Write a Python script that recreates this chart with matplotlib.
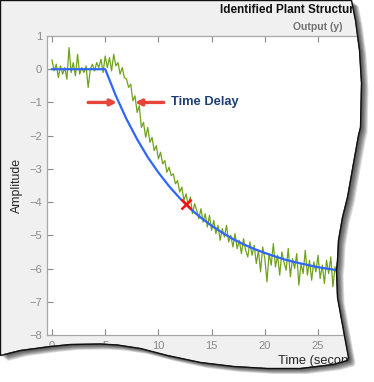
import numpy as np
import matplotlib
matplotlib.use('Agg')
import matplotlib.pyplot as plt
from matplotlib.patches import Polygon

plt.rcParams['font.family'] = ['Liberation Sans', 'DejaVu Sans']

# 测量数据 (绿色噪声曲线), 采样间隔 0.2 s
t_meas = np.arange(0, 30.01, 0.2)
y_meas = [
    0.28, -0.05, 0.15, -0.25, 0.10,
    -0.15, 0.05, -0.30, 0.65, -0.10,
    0.20, -0.20, 0.45, -0.15, 0.05,
    -0.10, 0.10, -0.55, 0.00, 0.15,
    -0.05, 0.20, 0.05, 0.30, -0.10,
    0.40, 0.05, 0.35, -0.05, 0.45,
    0.10, 0.20, -0.15, 0.05, -0.25,
    -0.30, -0.55, -0.45, -0.95, -0.80,
    -1.30, -1.10, -1.75, -1.60, -2.05,
    -1.75, -2.20, -2.05, -2.45, -2.30,
    -2.70, -2.50, -2.85, -2.75, -3.10,
    -2.95, -3.20, -3.15, -3.45, -3.35,
    -3.70, -3.55, -3.95, -3.75, -4.10,
    -3.85, -4.35, -4.05, -4.25, -4.50,
    -4.20, -4.60, -4.35, -4.75, -4.40,
    -4.85, -4.55, -4.95, -4.70, -5.15,
    -4.80, -5.05, -4.70, -5.20, -5.00,
    -5.35, -4.95, -5.40, -5.15, -5.55,
    -5.10, -5.45, -5.65, -5.20, -5.60,
    -5.30, -5.85, -5.45, -6.10, -5.35,
    -5.70, -6.40, -5.55, -5.90, -5.25,
    -5.95, -5.60, -6.20, -5.50, -5.80,
    -6.05, -5.40, -6.25, -5.70, -6.00,
    -5.55, -6.50, -5.85, -6.15, -5.45,
    -6.20, -5.75, -6.35, -5.80, -6.10,
    -5.60, -6.30, -5.90, -6.45, -5.75,
    -6.15, -5.65, -6.55, -5.95, -6.20,
    -5.80, -6.40, -6.00, -6.30, -5.90,
    -6.25, -5.95, -6.35, -6.05, -6.20,
    -6.00, -6.30, -6.10, -6.25, -6.05, -6.15,
]

# 模型响应 (蓝色曲线)
t_model = [0, 5, 6, 7, 8, 9, 10, 11, 12, 13, 14, 15, 16, 17, 18, 19, 20,
           21, 22, 23, 24, 25, 26, 27, 28, 29, 30]
y_model = [0, 0, -0.80, -1.50, -2.11, -2.65, -3.11, -3.52, -3.88, -4.20,
           -4.47, -4.71, -4.92, -5.11, -5.27, -5.41, -5.53, -5.64, -5.74,
           -5.82, -5.89, -5.96, -6.01, -6.06, -6.10, -6.14, -6.17]

# 红色叉号
mark_t = [12.6]
mark_y = [-4.07]

x_ticks = [0, 5, 10, 15, 20, 25, 30]
y_ticks = [-8, -7, -6, -5, -4, -3, -2, -1, 0, 1]

W, H = 374, 382
fig = plt.figure(figsize=(W / 100, H / 100), dpi=100, facecolor='#f0f0f0')

ax = fig.add_axes([47 / W, 1 - 335 / H, (W - 47) / W, (335 - 36) / H])
ax.plot(t_meas, y_meas, color='#6fa31c', lw=0.9)
ax.plot(t_model, y_model, color='#2f66ff', lw=1.6)
ax.plot(mark_t, mark_y, 'x', color='#ff1010', ms=7, mew=1.8)

ax.set_xlim(-0.47, 30.26)
ax.set_ylim(-8, 1)
ax.set_xticks(x_ticks)
ax.set_yticks(y_ticks)
ax.tick_params(direction='in', length=4, width=0.8, colors='#8a8a8a',
               labelsize=8, top=True, right=True)
ax.tick_params(axis='x', pad=4)
for s in ax.spines.values():
    s.set_color('#a8a8a8')
    s.set_linewidth(0.9)

ax.set_ylabel('Amplitude', fontsize=8.8, color='#262626')
ax.yaxis.set_label_coords(-0.073, 0.5)
ax.set_xlabel('Time (seconds)', fontsize=9.3, color='#262626')
ax.xaxis.set_label_coords(0.84, -0.067)

# 箭头与文字
arrow = dict(arrowstyle='-|>', color='#e8443a', lw=2.4, mutation_scale=9,
             shrinkA=0, shrinkB=0)
ax.annotate('', xy=(6.1, -1), xytext=(3.4, -1), arrowprops=arrow)
ax.annotate('', xy=(7.8, -1), xytext=(10.5, -1), arrowprops=arrow)
ax.text(11.2, -1, 'Time Delay', fontsize=9.3, fontweight='bold',
        color='#1f3d75', va='center', ha='left')

fig.text(220 / W, 1 - 10 / H, 'Identified Plant Structure', fontsize=8.5,
         fontweight='bold', color='#111111', va='center', ha='left')
fig.text(293 / W, 1 - 27 / H, 'Output (y)', fontsize=7.5,
         fontweight='bold', color='#707070', va='center', ha='left')

# 撕纸边缘
edge = [(351, 0), (355, 20), (359, 50), (361, 83), (360, 127), (358, 135),
        (353, 163), (347, 197), (342, 217), (338, 240), (337, 260),
        (336, 270), (337, 297), (343, 330), (348, 357), (347, 360),
        (333, 364), (300, 368), (267, 368), (233, 366), (200, 362),
        (167, 355), (140, 348), (117, 344.5), (100, 343.5), (70, 344),
        (50, 346), (20, 350), (0, 355)]

ov = fig.add_axes([0, 0, 1, 1], zorder=5)
ov.set_xlim(0, W)
ov.set_ylim(H, 0)
ov.axis('off')
ov.patch.set_alpha(0)

outside = Polygon(edge + [(0, H), (W, H), (W, 0)], closed=True,
                  facecolor='white', edgecolor='none')
ov.add_patch(outside)

panel = np.array([(0, 0)] + edge)
for off in [1.5, 2.5, 3.5, 4.5, 5.5, 6.5, 7.5]:
    sh = Polygon(panel + np.array([off, off * 0.8]), closed=True,
                 facecolor='black', edgecolor='none', alpha=0.14)
    ov.add_patch(sh)
    sh.set_clip_path(outside)

ov.add_patch(Polygon(panel + np.array([0.5, 0.5]), closed=True,
                     facecolor='none', edgecolor='#111111', lw=1.0))

fig.savefig('out.png', dpi=100, facecolor=fig.get_facecolor())
